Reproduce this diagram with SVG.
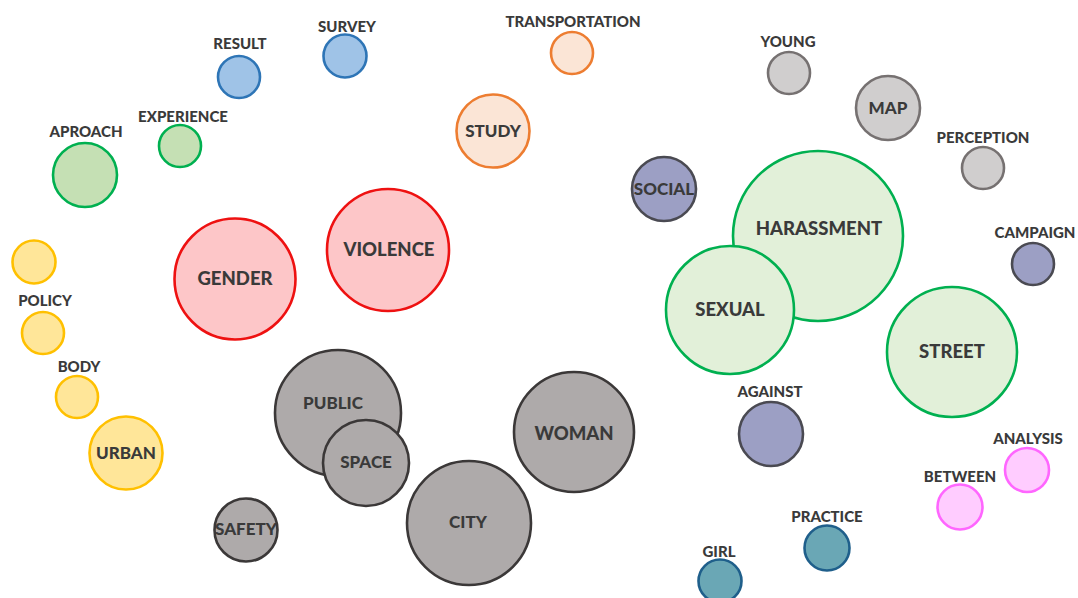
<svg xmlns="http://www.w3.org/2000/svg" width="1078" height="598" viewBox="0 0 1078 598">
<style>
text{font-family:Lato,"Liberation Sans",sans-serif;font-weight:900;fill:#3a3a3a;text-anchor:middle}
.s{font-size:15px}
.m{font-size:17px}
.l{font-size:18.5px}
circle{stroke-width:2.6}
.blue{fill:#9fc3e7;stroke:#2e75b6}
.green{fill:#c5e0b4;stroke:#00b050}
.lgreen{fill:#e2f0d9;stroke:#00b050}
.orange{fill:#fbe5d6;stroke:#ed7d31}
.red{fill:#fdc6c8;stroke:#ee1111}
.yellow{fill:#ffe699;stroke:#ffc000}
.gray{fill:#aeaaaa;stroke:#3b3838}
.lgray{fill:#d0cece;stroke:#767171}
.purple{fill:#9c9fc4;stroke:#4a4a52}
.teal{fill:#6aa7b5;stroke:#1f5f8b}
.pink{fill:#ffccff;stroke:#ff66ff}
</style>
<rect width="1078" height="598" fill="#ffffff"/>
<g id="connectors"></g>
<g id="result"><circle class="blue" cx="239" cy="77" r="21"/><text class="s" x="240" y="49">RESULT</text></g>
<g id="survey"><circle class="blue" cx="345" cy="56" r="21.5"/><text class="s" x="347" y="32">SURVEY</text></g>
<g id="experience"><circle class="green" cx="180" cy="146" r="21"/><text class="s" x="183" y="122">EXPERIENCE</text></g>
<g id="aproach"><circle class="green" cx="85" cy="175" r="32"/><text class="s" x="86" y="137">APROACH</text></g>
<g id="transportation"><circle class="orange" cx="572" cy="53" r="21"/><text class="s" x="573" y="27">TRANSPORTATION</text></g>
<g id="study"><circle class="orange" cx="493" cy="131" r="36.5"/><text class="m" x="493" y="137">STUDY</text></g>
<g id="social"><circle class="purple" cx="664" cy="189" r="32"/><text class="m" x="664" y="195">SOCIAL</text></g>
<g id="young"><circle class="lgray" cx="789" cy="73" r="21"/><text class="s" x="788" y="47">YOUNG</text></g>
<g id="map"><circle class="lgray" cx="888" cy="108" r="32"/><text class="m" x="888" y="114">MAP</text></g>
<g id="perception"><circle class="lgray" cx="983" cy="168" r="21"/><text class="s" x="983" y="143">PERCEPTION</text></g>
<g id="campaign"><circle class="purple" cx="1033" cy="264" r="21"/><text class="s" x="1035" y="238">CAMPAIGN</text></g>
<g id="harassment"><circle class="lgreen" cx="818" cy="236" r="85"/><text class="l" x="819" y="235">HARASSMENT</text></g>
<g id="sexual"><circle class="lgreen" cx="730" cy="310" r="64"/><text class="l" x="730" y="316">SEXUAL</text></g>
<g id="street"><circle class="lgreen" cx="952" cy="352" r="65"/><text class="l" x="952" y="358">STREET</text></g>
<g id="yellow1"><circle class="yellow" cx="34" cy="262" r="21.5"/></g>
<g id="policy"><circle class="yellow" cx="43" cy="333" r="21"/><text class="s" x="45" y="306">POLICY</text></g>
<g id="body"><circle class="yellow" cx="77" cy="397" r="21"/><text class="s" x="79" y="372">BODY</text></g>
<g id="urban"><circle class="yellow" cx="126" cy="453" r="36.5"/><text class="m" x="126" y="459">URBAN</text></g>
<g id="gender"><circle class="red" cx="235" cy="279" r="60.5"/><text class="l" x="235" y="285">GENDER</text></g>
<g id="violence"><circle class="red" cx="388" cy="250" r="61"/><text class="l" x="389" y="256">VIOLENCE</text></g>
<g id="public"><circle class="gray" cx="338" cy="413" r="63"/><text class="m" x="333" y="409">PUBLIC</text></g>
<g id="space"><circle class="gray" cx="366" cy="463" r="43"/><text class="m" x="366" y="468">SPACE</text></g>
<g id="safety"><circle class="gray" cx="246" cy="530" r="31.5"/><text class="m" x="246" y="535">SAFETY</text></g>
<g id="city"><circle class="gray" cx="469" cy="523" r="62"/><text class="m" x="468" y="528">CITY</text></g>
<g id="woman"><circle class="gray" cx="574" cy="432" r="60"/><text class="l" x="574" y="440">WOMAN</text></g>
<g id="against"><circle class="purple" cx="771" cy="434" r="32"/><text class="s" x="770" y="397">AGAINST</text></g>
<g id="analysis"><circle class="pink" cx="1027" cy="470" r="22"/><text class="s" x="1028" y="444">ANALYSIS</text></g>
<g id="between"><circle class="pink" cx="960" cy="507" r="22.5"/><text class="s" x="960" y="482">BETWEEN</text></g>
<g id="practice"><circle class="teal" cx="827" cy="548" r="22.5"/><text class="s" x="827" y="522">PRACTICE</text></g>
<g id="girl"><circle class="teal" cx="720" cy="581" r="21.5"/><text class="s" x="719" y="557">GIRL</text></g>
</svg>
